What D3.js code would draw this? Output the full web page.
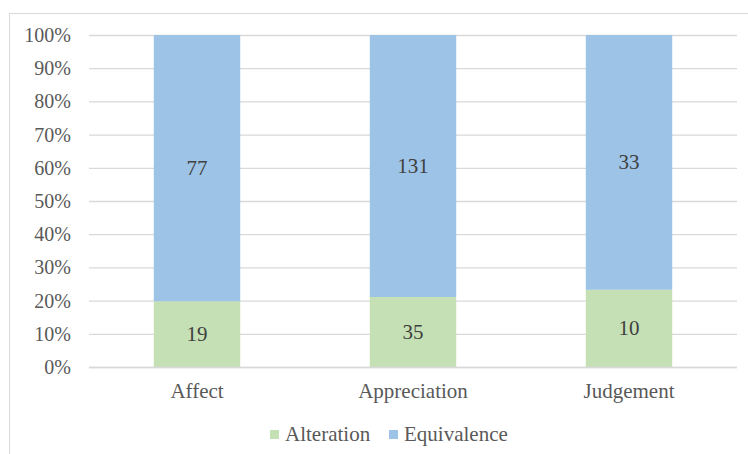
<!DOCTYPE html>
<html>
<head>
<meta charset="utf-8">
<script src="https://cdn.jsdelivr.net/npm/d3@7"></script>
<style>
  body { margin: 0; background: #fff; }
  svg { display: block; font-family: "Liberation Serif", "Times New Roman", serif; }
</style>
</head>
<body>
<svg id="chart" width="748" height="454"></svg>
<script>
const categories = ['Affect', 'Appreciation', 'Judgement'];
const seriesNames = ['Alteration', 'Equivalence'];
const alteration = [19, 35, 10];
const equivalence = [77, 131, 33];
const yTicks = [0, 0.1, 0.2, 0.3, 0.4, 0.5, 0.6, 0.7, 0.8, 0.9, 1];

const colors = { Alteration: '#C5E0B4', Equivalence: '#9DC3E6' };

const svg = d3.select('#chart');
const margin = { left: 89, right: 11, top: 35, bottom: 87 };
const width = 748, height = 454;

// outer chart frame (cut off at right and bottom)
svg.append('rect')
    .attr('x', 9.5).attr('y', 13.5)
    .attr('width', 760).attr('height', 460)
    .attr('fill', 'none')
    .attr('stroke', '#D9D9D9');

const rows = categories.map((c, i) => ({
    category: c,
    Alteration: alteration[i],
    Equivalence: equivalence[i]
}));

const x = d3.scaleBand()
    .domain(categories)
    .range([margin.left, width - margin.right])
    .paddingInner(0.6)
    .paddingOuter(0.3);

const y = d3.scaleLinear()
    .domain([0, 1])
    .range([height - margin.bottom, margin.top]);

const stack = d3.stack()
    .keys(seriesNames)
    .offset(d3.stackOffsetExpand);
const layers = stack(rows);

// gridlines + y labels
const yAxis = svg.append('g')
    .attr('transform', `translate(${margin.left},0)`)
    .call(d3.axisLeft(y)
        .tickValues(yTicks)
        .tickSize(-(width - margin.left - margin.right))
        .tickPadding(18)
        .tickFormat(d3.format('.0%')));
yAxis.select('.domain').remove();
yAxis.selectAll('.tick line').attr('stroke', '#D9D9D9').attr('stroke-width', 1.3);
yAxis.selectAll('.tick text')
    .attr('fill', '#595959')
    .style('font-size', '20px')
    .style('font-family', '"Liberation Serif", serif');

// bars
const layer = svg.selectAll('.layer')
    .data(layers)
    .enter().append('g')
        .attr('class', 'layer')
        .attr('fill', d => colors[d.key]);

layer.selectAll('rect')
    .data(d => d)
    .enter().append('rect')
        .attr('x', d => x(d.data.category))
        .attr('width', x.bandwidth())
        .attr('y', d => y(d[1]))
        .attr('height', d => y(d[0]) - y(d[1]));

// data labels
layer.selectAll('text')
    .data(d => d.map(v => Object.assign(v, { key: d.key })))
    .enter().append('text')
        .attr('x', d => x(d.data.category) + x.bandwidth() / 2)
        .attr('y', d => y((d[0] + d[1]) / 2))
        .attr('text-anchor', 'middle')
        .attr('dominant-baseline', 'central')
        .attr('fill', '#404040')
        .style('font-size', '21px')
        .text(d => d.data[d.key]);

// x labels
const xAxis = svg.append('g')
    .attr('transform', `translate(0,${height - margin.bottom})`)
    .call(d3.axisBottom(x).tickSize(0).tickPadding(16));
xAxis.select('.domain').attr('stroke', '#D9D9D9').attr('stroke-width', 1.3)
    .attr('d', `M${margin.left},0.5H${width - margin.right}`);
xAxis.selectAll('.tick text')
    .attr('fill', '#595959')
    .style('font-size', '21px')
    .style('font-family', '"Liberation Serif", serif');

// legend
const legendX = [270, 389];
const legend = svg.selectAll('.legend')
    .data(seriesNames)
    .enter().append('g')
        .attr('class', 'legend')
        .attr('transform', (d, i) => `translate(${legendX[i]},434)`);
legend.append('rect')
    .attr('x', 0).attr('y', -4)
    .attr('width', 9).attr('height', 9)
    .attr('fill', d => colors[d]);
legend.append('text')
    .attr('x', 15)
    .attr('y', 0)
    .attr('dominant-baseline', 'central')
    .attr('fill', '#595959')
    .style('font-size', '21px')
    .text(d => d);
</script>
</body>
</html>
